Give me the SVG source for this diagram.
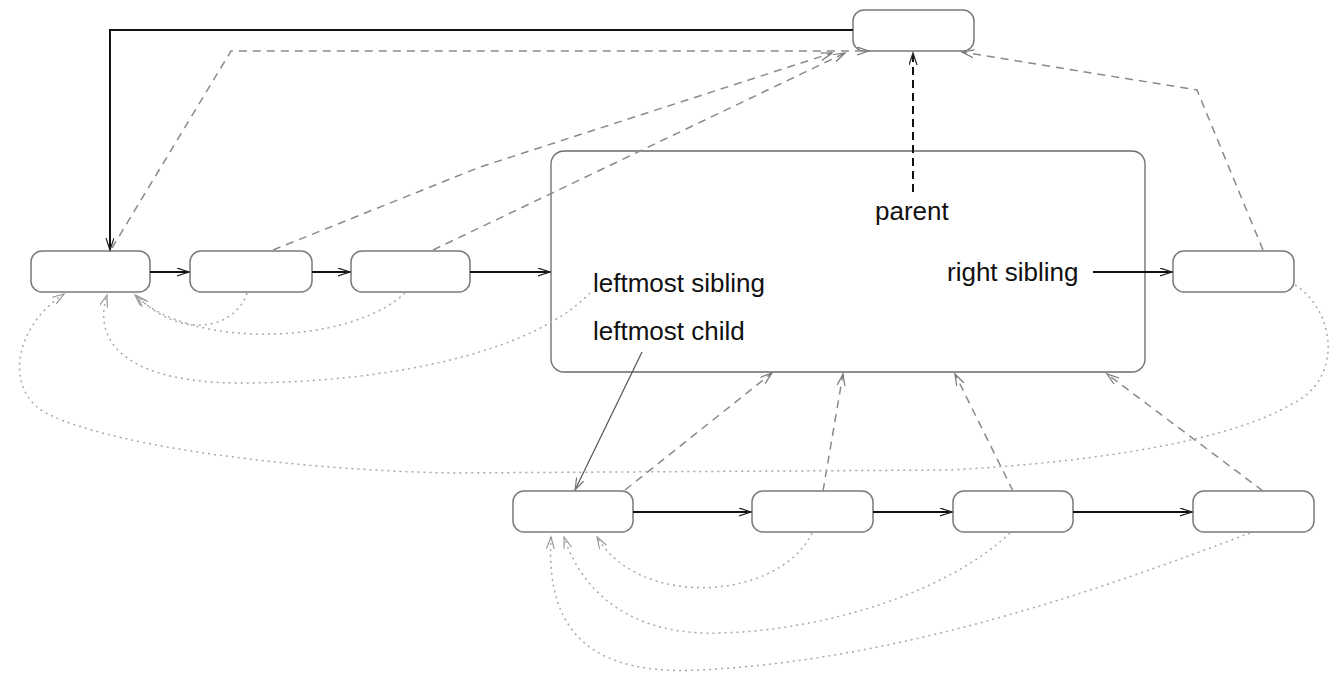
<svg xmlns="http://www.w3.org/2000/svg" width="1330" height="677" viewBox="0 0 1330 677">
<style>
.node{fill:#fff;stroke:#7a7a7a;stroke-width:1.5}
.box{fill:#fff;stroke:#6a6a6a;stroke-width:1.3}
.solid{fill:none;stroke:#111;stroke-width:2}
.thin{fill:none;stroke:#555;stroke-width:1.2}
.pdash{fill:none;stroke:#111;stroke-width:2;stroke-dasharray:8,5}
.dash{fill:none;stroke:#8a8a8a;stroke-width:1.5;stroke-dasharray:8,6}
.dot{fill:none;stroke:#a8a8a8;stroke-width:1.5;stroke-dasharray:2,4}
.lbl{font-family:"Liberation Sans",Arial,sans-serif;font-size:26px;fill:#111}
</style>
<defs>
<marker id="ab" markerUnits="userSpaceOnUse" markerWidth="14" markerHeight="10" refX="12" refY="4" orient="auto"><path d="M0,0 L12,4 L0,8" fill="none" stroke="#222" stroke-width="1.2"/></marker>
<marker id="ag" markerUnits="userSpaceOnUse" markerWidth="14" markerHeight="10" refX="12" refY="4" orient="auto"><path d="M0,0 L12,4 L0,8" fill="none" stroke="#777" stroke-width="1.2"/></marker>
<marker id="al" markerUnits="userSpaceOnUse" markerWidth="14" markerHeight="10" refX="12" refY="4" orient="auto"><path d="M0,0 L12,4 L0,8" fill="none" stroke="#999" stroke-width="1.2"/></marker>
</defs>

<g id="main-box">
<rect class="box" x="551" y="151" width="594" height="221" rx="13"/>
<text class="lbl" x="875" y="220">parent</text>
<text class="lbl" x="593" y="292">leftmost sibling</text>
<text class="lbl" x="593" y="340">leftmost child</text>
<text class="lbl" x="947" y="281">right sibling</text>
</g>

<g id="parent-node"><rect class="node" x="853" y="10" width="121" height="41" rx="11"/></g>
<g id="sib1"><rect class="node" x="31" y="251" width="119" height="41" rx="11"/></g>
<g id="sib2"><rect class="node" x="190" y="251" width="122" height="41" rx="11"/></g>
<g id="sib3"><rect class="node" x="351" y="251" width="119" height="41" rx="11"/></g>
<g id="sib-right"><rect class="node" x="1173" y="251" width="121" height="41" rx="11"/></g>
<g id="child1"><rect class="node" x="513" y="491" width="120" height="41" rx="11"/></g>
<g id="child2"><rect class="node" x="752" y="491" width="121" height="41" rx="11"/></g>
<g id="child3"><rect class="node" x="953" y="491" width="120" height="41" rx="11"/></g>
<g id="child4"><rect class="node" x="1193" y="491" width="121" height="41" rx="11"/></g>

<g id="connectors">
<!-- solid -->
<path class="solid" d="M853,30 L110,30 L110,250" marker-end="url(#ab)"/>
<path class="solid" d="M150,272 L189,272" marker-end="url(#ab)"/>
<path class="solid" d="M312,272 L350,272" marker-end="url(#ab)"/>
<path class="solid" d="M470,272 L550,272" marker-end="url(#ab)"/>
<path class="solid" d="M1093,272 L1172,272" marker-end="url(#ab)"/>
<path class="solid" d="M633,512 L751,512" marker-end="url(#ab)"/>
<path class="solid" d="M873,512 L952,512" marker-end="url(#ab)"/>
<path class="solid" d="M1073,512 L1192,512" marker-end="url(#ab)"/>
<path class="thin" d="M642,352 L575,490" marker-end="url(#ag)"/>
<!-- parent pointer of main box -->
<path class="pdash" d="M913,192 L913,53" marker-end="url(#ab)"/>
<!-- dashed parent pointers -->
<path class="dash" d="M112,248 L231,51 L869,51" marker-end="url(#ag)"/>
<path class="dash" d="M273,250 L480,167 L832,53" marker-end="url(#ag)"/>
<path class="dash" d="M433,250 L845,53" marker-end="url(#ag)"/>
<path class="dash" d="M1263,250 L1197,90 L962,52" marker-end="url(#ag)"/>
<path class="dash" d="M625,490 L772,373" marker-end="url(#ag)"/>
<path class="dash" d="M823,491 L843,374" marker-end="url(#ag)"/>
<path class="dash" d="M1013,491 L955,374" marker-end="url(#ag)"/>
<path class="dash" d="M1263,491 L1107,374" marker-end="url(#ag)"/>
<!-- dotted leftmost sibling pointers -->
<path class="dot" d="M247,293 C235,330 180,340 137,296" marker-end="url(#al)"/>
<path class="dot" d="M405,293 C350,345 190,350 135,295" marker-end="url(#al)"/>
<path class="dot" d="M590,293 C530,355 380,383 240,383 C140,383 90,350 107,295" marker-end="url(#al)"/>
<path class="dot" d="M1295,285 C1335,310 1345,380 1290,405 C1230,440 1100,462 950,470 L450,473 C300,470 120,448 50,415 C5,395 10,330 64,294" marker-end="url(#al)"/>
<!-- dotted leftmost sibling pointers, bottom row -->
<path class="dot" d="M812,533 C780,600 640,610 597,537" marker-end="url(#al)"/>
<path class="dot" d="M1010,533 C950,590 830,630 720,633 C640,636 585,600 564,537" marker-end="url(#al)"/>
<path class="dot" d="M1250,533 C1100,590 900,660 700,670 C600,675 545,640 551,537" marker-end="url(#al)"/>
</g>
</svg>
